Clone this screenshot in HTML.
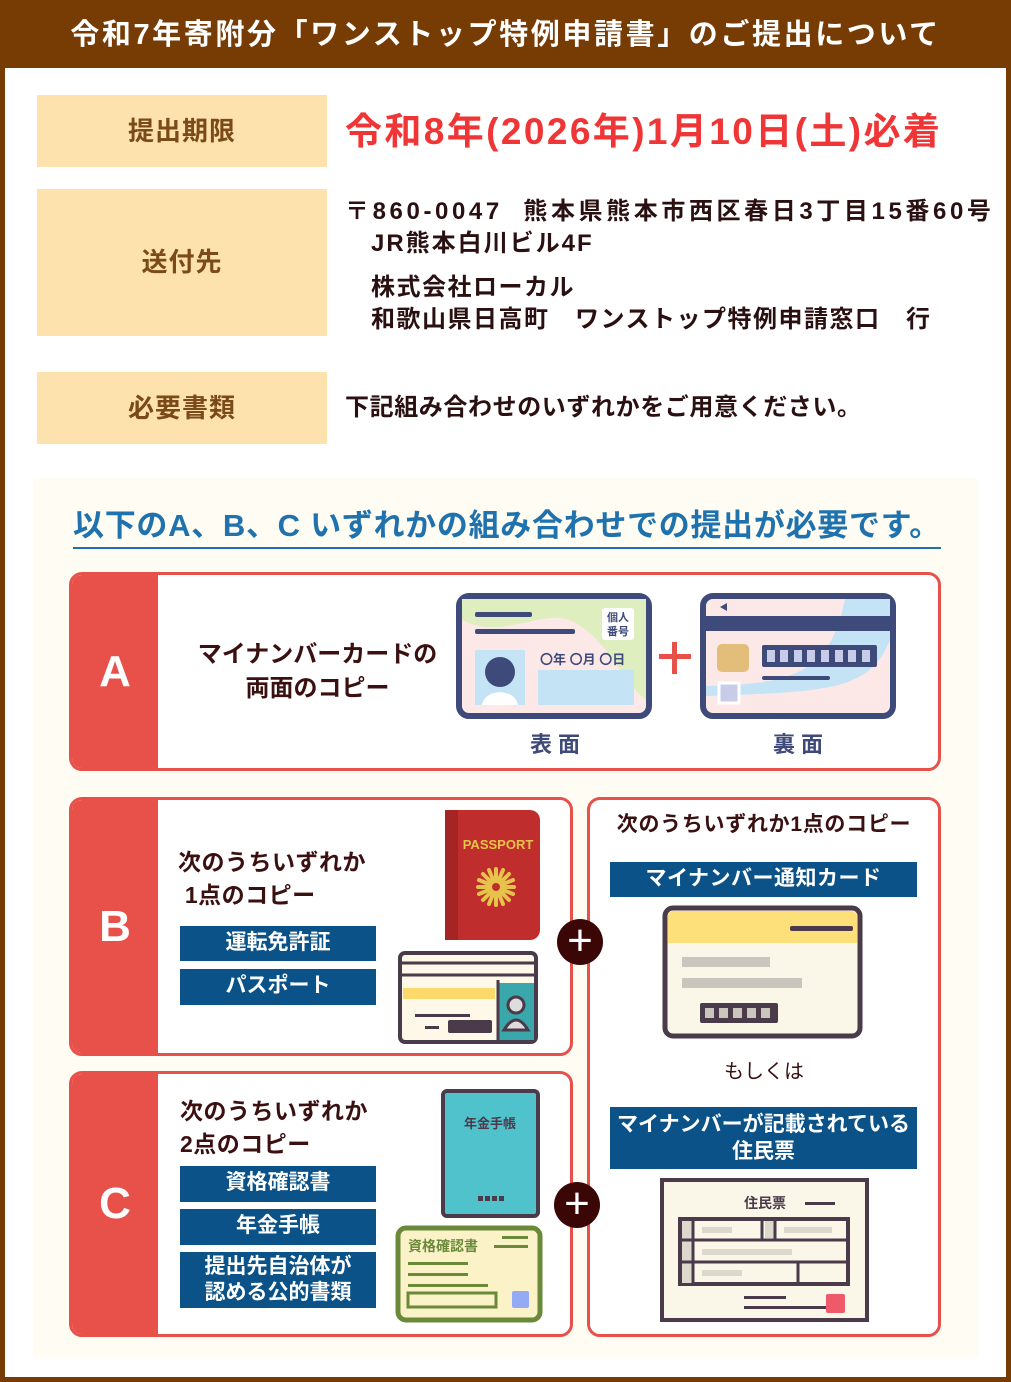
<!DOCTYPE html>
<html><head><meta charset="utf-8"><style>
*{margin:0;padding:0;box-sizing:border-box}
body{width:1011px;height:1382px;background:#773c03;position:relative;overflow:hidden;font-family:"Liberation Sans","Noto Sans CJK JP",sans-serif;font-weight:bold}
.a{position:absolute}
.hdr{left:0;top:0;width:1011px;height:68px;color:#fff;font-size:29px;text-align:center;line-height:70px;letter-spacing:2.6px}
.body{left:5px;top:68px;width:1001px;height:1309px;background:#fff}
.lbl{background:#fde2ad;color:#7a4a18;font-size:26px;text-align:center;left:37px;width:290px;letter-spacing:1px}
.txt{color:#2a1010;font-size:24px;line-height:32px}
.box{border:3px solid #e8504a;border-radius:13px;background:#fff;overflow:hidden}
.strip{position:absolute;left:0;top:0;bottom:0;width:86px;background:#e8504a;color:#fff;font-size:44px;text-align:center}
.btn{background:#0a5287;color:#fff;font-size:21px;text-align:center;line-height:34px}
.dk{color:#3a1010}
.plus{width:46px;height:46px;border-radius:50%;background:#3a0606;color:#fff;font-size:44px;line-height:44px;text-align:center;font-weight:normal}
</style></head><body>
<div class="a hdr">令和7年寄附分「ワンストップ特例申請書」のご提出について</div>
<div class="a body"></div>

<div class="a lbl" style="top:95px;height:72px;line-height:72px">提出期限</div>
<div class="a" style="left:345px;top:108px;color:#ef3535;font-size:37px;line-height:48px;letter-spacing:2.4px;white-space:nowrap">令和8年(2026年)1月10日(土)必着</div>

<div class="a lbl" style="top:189px;height:147px;line-height:147px">送付先</div>
<div class="a txt" style="left:345px;top:196px;white-space:nowrap"><span style="letter-spacing:3.6px">〒860-0047&nbsp;&nbsp;熊本県熊本市西区春日3丁目15番60号</span><br><span style="letter-spacing:2px">&nbsp;&nbsp;&nbsp;JR熊本白川ビル4F</span></div>
<div class="a txt" style="left:371px;top:272px;letter-spacing:1.5px;white-space:nowrap">株式会社ローカル<br>和歌山県日高町　ワンストップ特例申請窓口　行</div>

<div class="a lbl" style="top:372px;height:72px;line-height:72px">必要書類</div>
<div class="a txt" style="left:345px;top:392px;letter-spacing:0.6px">下記組み合わせのいずれかをご用意ください。</div>

<div class="a" style="left:33px;top:478px;width:945px;height:879px;background:#fefcf3"></div>
<div class="a" style="left:73px;top:505px;color:#1f72ad;font-size:31px;line-height:42px;border-bottom:2px solid #1f72ad;white-space:nowrap;letter-spacing:0.7px">以下のA、B、C いずれかの組み合わせでの提出が必要です。</div>

<!-- A -->
<div class="a box" style="left:69px;top:572px;width:872px;height:199px"><div class="strip" style="line-height:193px">A</div></div>
<div class="a dk" style="left:185px;top:638px;width:265px;font-size:24px;line-height:34px;text-align:center">マイナンバーカードの<br>両面のコピー</div>
<svg class="a" style="left:440px;top:580px" width="470" height="180">
 <rect x="19" y="16" width="190" height="120" rx="10" fill="#fde8e8" stroke="#3e4a7a" stroke-width="6"/>
 <path d="M22 19 H206 V120 C180 100 170 60 130 40 C100 30 60 60 22 40Z" fill="#dfeebf"/>
 <rect x="35" y="32" width="57" height="5" rx="2" fill="#3e4a7a"/><rect x="35" y="49" width="100" height="5" rx="2" fill="#3e4a7a"/>
 <rect x="162" y="28" width="32" height="32" rx="3" fill="#fff"/><text x="178" y="41" font-size="11" text-anchor="middle" fill="#3e4a7a">個人</text><text x="178" y="55" font-size="11" text-anchor="middle" fill="#3e4a7a">番号</text>
 <rect x="35" y="70" width="50" height="55" fill="#c4e4f6"/><circle cx="60" cy="92" r="15" fill="#3e4a7a"/><path d="M42 125 C45 108 75 108 78 125Z" fill="#fff"/>
 <text x="100" y="84" font-size="13" fill="#3e4a7a" font-weight="bold">〇年 〇月 〇日</text>
 <rect x="98" y="90" width="96" height="35" fill="#c4e4f6"/>
 <rect x="219" y="74" width="32" height="5" fill="#e8504a"/><rect x="232" y="62" width="5" height="32" fill="#e8504a"/>
 <rect x="263" y="16" width="190" height="120" rx="10" fill="#fde8e8" stroke="#3e4a7a" stroke-width="6"/>
 <path d="M405 19 H450 V60 C430 110 390 112 266 116 V106 C360 104 390 90 405 19Z" fill="#c4e4f6"/>
 <rect x="266" y="36" width="184" height="15" fill="#3e4a7a"/>
 <path d="M287 23 L280 27 L287 31Z" fill="#3e4a7a"/>
 <rect x="277" y="64" width="32" height="28" rx="5" fill="#e3bd7a"/>
 <rect x="322" y="65" width="115" height="22" rx="2" fill="#3e4a7a"/>
 <g fill="#c8cce8"><rect x="327" y="70" width="8" height="12"/><rect x="340" y="70" width="8" height="12"/><rect x="354" y="70" width="8" height="12"/><rect x="367" y="70" width="8" height="12"/><rect x="381" y="70" width="8" height="12"/><rect x="395" y="70" width="8" height="12"/><rect x="408" y="70" width="8" height="12"/><rect x="422" y="70" width="8" height="12"/></g>
 <rect x="322" y="96" width="68" height="4" rx="2" fill="#3e4a7a"/>
 <rect x="279" y="103" width="20" height="20" fill="#c8cce8" stroke="#fff" stroke-width="3"/>
 <text x="115" y="172" font-size="22" text-anchor="middle" fill="#3e4a7a" font-weight="bold">表 面</text>
 <text x="358" y="172" font-size="22" text-anchor="middle" fill="#3e4a7a" font-weight="bold">裏 面</text>
</svg>

<!-- B -->
<div class="a box" style="left:69px;top:797px;width:504px;height:259px"><div class="strip" style="line-height:253px">B</div></div>
<div class="a dk" style="left:178px;top:846px;font-size:23px;line-height:33px;letter-spacing:0.5px">次のうちいずれか<br>&nbsp;1点のコピー</div>
<div class="a btn" style="left:180px;top:926px;width:196px;height:35px">運転免許証</div>
<div class="a btn" style="left:180px;top:969px;width:196px;height:36px">パスポート</div>
<svg class="a" style="left:390px;top:805px" width="160" height="245">
 <rect x="55" y="5" width="95" height="130" rx="10" fill="#c02d2d"/><rect x="55" y="5" width="13" height="130" fill="#a52424"/>
 <text x="108" y="44" font-size="13" fill="#e6c34a" text-anchor="middle" font-weight="bold">PASSPORT</text>
 <g stroke="#e6c34a" stroke-width="4" stroke-linecap="round" transform="translate(106,82)">
  <line x1="-18" y1="0" x2="18" y2="0"/><line x1="0" y1="-18" x2="0" y2="18"/><line x1="-13" y1="-13" x2="13" y2="13"/><line x1="-13" y1="13" x2="13" y2="-13"/>
  <line x1="-7" y1="-17" x2="7" y2="17"/><line x1="-17" y1="-7" x2="17" y2="7"/><line x1="-7" y1="17" x2="7" y2="-17"/><line x1="-17" y1="7" x2="17" y2="-7"/></g>
 <circle cx="106" cy="82" r="4" fill="#c02d2d"/>
 <rect x="10" y="148" width="136" height="89" rx="5" fill="#fdf8e8" stroke="#4a3a4a" stroke-width="4"/>
 <line x1="10" y1="170" x2="146" y2="170" stroke="#4a3a4a" stroke-width="3"/><line x1="10" y1="158" x2="146" y2="158" stroke="#4a3a4a" stroke-width="3"/>
 <rect x="13" y="183" width="92" height="11" fill="#fcd96a"/>
 <rect x="108" y="178" width="36" height="57" fill="#3aa8aa"/><circle cx="126" cy="200" r="8" fill="#ddd" stroke="#4a3a4a" stroke-width="3"/><path d="M114 225 Q126 205 138 225Z" fill="#ddd" stroke="#4a3a4a" stroke-width="3"/>
 <line x1="108" y1="175" x2="108" y2="237" stroke="#4a3a4a" stroke-width="3"/>
 <rect x="25" y="209" width="55" height="3" fill="#4a3a4a"/><rect x="58" y="215" width="44" height="13" rx="2" fill="#4a3a4a"/>
 <rect x="35" y="221" width="14" height="3" fill="#4a3a4a"/>
</svg>

<!-- C -->
<div class="a box" style="left:69px;top:1071px;width:504px;height:266px"><div class="strip" style="line-height:260px">C</div></div>
<div class="a dk" style="left:180px;top:1095px;font-size:23px;line-height:33px;letter-spacing:0.5px">次のうちいずれか<br>2点のコピー</div>
<div class="a btn" style="left:180px;top:1166px;width:196px;height:36px">資格確認書</div>
<div class="a btn" style="left:180px;top:1209px;width:196px;height:36px">年金手帳</div>
<div class="a btn" style="left:180px;top:1252px;width:196px;height:56px;line-height:26px;padding-top:2px">提出先自治体が<br>認める公的書類</div>
<svg class="a" style="left:390px;top:1085px" width="160" height="245">
 <rect x="53" y="6" width="95" height="125" rx="4" fill="#50c2cb" stroke="#4a3a4a" stroke-width="4"/>
 <text x="100" y="43" font-size="13" fill="#4a3a4a" text-anchor="middle" font-weight="bold">年金手帳</text>
 <g fill="#4a3a4a"><rect x="88" y="111" width="5" height="5"/><rect x="95" y="111" width="5" height="5"/><rect x="102" y="111" width="5" height="5"/><rect x="109" y="111" width="5" height="5"/></g>
 <rect x="8" y="143" width="142" height="92" rx="8" fill="#fbf2c8" stroke="#6a8a3a" stroke-width="5"/>
 <text x="18" y="166" font-size="14" fill="#6a8a3a" font-weight="bold">資格確認書</text>
 <g fill="#6a8a3a"><rect x="104" y="160" width="34" height="3"/><rect x="112" y="151" width="26" height="3"/><rect x="18" y="177" width="60" height="3"/><rect x="18" y="188" width="60" height="3"/><rect x="18" y="199" width="80" height="3"/></g>
 <rect x="18" y="208" width="88" height="14" fill="none" stroke="#6a8a3a" stroke-width="3"/>
 <rect x="122" y="206" width="17" height="17" rx="2" fill="#93aaf5"/>
</svg>

<!-- Right -->
<div class="a box" style="left:587px;top:797px;width:354px;height:540px"></div>
<div class="a dk" style="left:587px;top:810px;width:354px;text-align:center;font-size:21px;line-height:30px;letter-spacing:0.7px">次のうちいずれか1点のコピー</div>
<div class="a btn" style="left:610px;top:862px;width:307px;height:35px;letter-spacing:0.5px">マイナンバー通知カード</div>
<svg class="a" style="left:660px;top:905px" width="210" height="140">
 <rect x="5" y="3" width="195" height="128" rx="8" fill="#fbf7e8" stroke="#4a3a4a" stroke-width="5"/>
 <path d="M8 12 Q8 6 14 6 H190 Q197 6 197 12 V38 H8Z" fill="#fde07a"/>
 <rect x="130" y="21" width="63" height="5" rx="2" fill="#4a3a4a"/>
 <rect x="22" y="52" width="88" height="10" fill="#cac5bd"/><rect x="22" y="73" width="120" height="10" fill="#cac5bd"/>
 <rect x="40" y="98" width="78" height="20" rx="2" fill="#4a3a4a"/>
 <g fill="#cac5bd"><rect x="45" y="103" width="9" height="10"/><rect x="59" y="103" width="9" height="10"/><rect x="73" y="103" width="9" height="10"/><rect x="87" y="103" width="9" height="10"/><rect x="101" y="103" width="9" height="10"/></g>
</svg>
<div class="a dk" style="left:587px;top:1058px;width:354px;text-align:center;font-size:20px;line-height:28px;font-weight:normal">もしくは</div>
<div class="a btn" style="left:610px;top:1107px;width:307px;height:62px;line-height:27px;padding-top:4px">マイナンバーが記載されている<br>住民票</div>
<svg class="a" style="left:658px;top:1176px" width="215" height="150">
 <rect x="4" y="4" width="205" height="140" fill="#fbf7e8" stroke="#4a3a4a" stroke-width="4"/>
 <text x="107" y="32" font-size="14" fill="#4a3a4a" text-anchor="middle" font-weight="bold">住民票</text>
 <rect x="147" y="26" width="30" height="3" fill="#4a3a4a"/>
 <rect x="22" y="43" width="168" height="65" fill="#fbf7e8" stroke="#4a3a4a" stroke-width="4"/>
 <g fill="#ddd8cc"><rect x="24" y="45" width="10" height="62"/><rect x="107" y="45" width="9" height="17"/><rect x="44" y="51" width="30" height="6"/><rect x="126" y="51" width="48" height="6"/><rect x="44" y="73" width="90" height="6"/><rect x="44" y="94" width="40" height="6"/></g>
 <g stroke="#4a3a4a" stroke-width="3"><line x1="22" y1="64" x2="190" y2="64"/><line x1="22" y1="86" x2="190" y2="86"/><line x1="35" y1="43" x2="35" y2="108"/><line x1="104" y1="43" x2="104" y2="64"/><line x1="117" y1="43" x2="117" y2="64"/><line x1="140" y1="86" x2="140" y2="108"/></g>
 <rect x="86" y="120" width="42" height="3" fill="#4a3a4a"/><rect x="86" y="130" width="84" height="3" fill="#4a3a4a"/>
 <rect x="168" y="118" width="19" height="19" rx="2" fill="#ee5a6a"/>
</svg>

<div class="a plus" style="left:557px;top:919px">+</div>
<div class="a plus" style="left:554px;top:1182px">+</div>
</body></html>
